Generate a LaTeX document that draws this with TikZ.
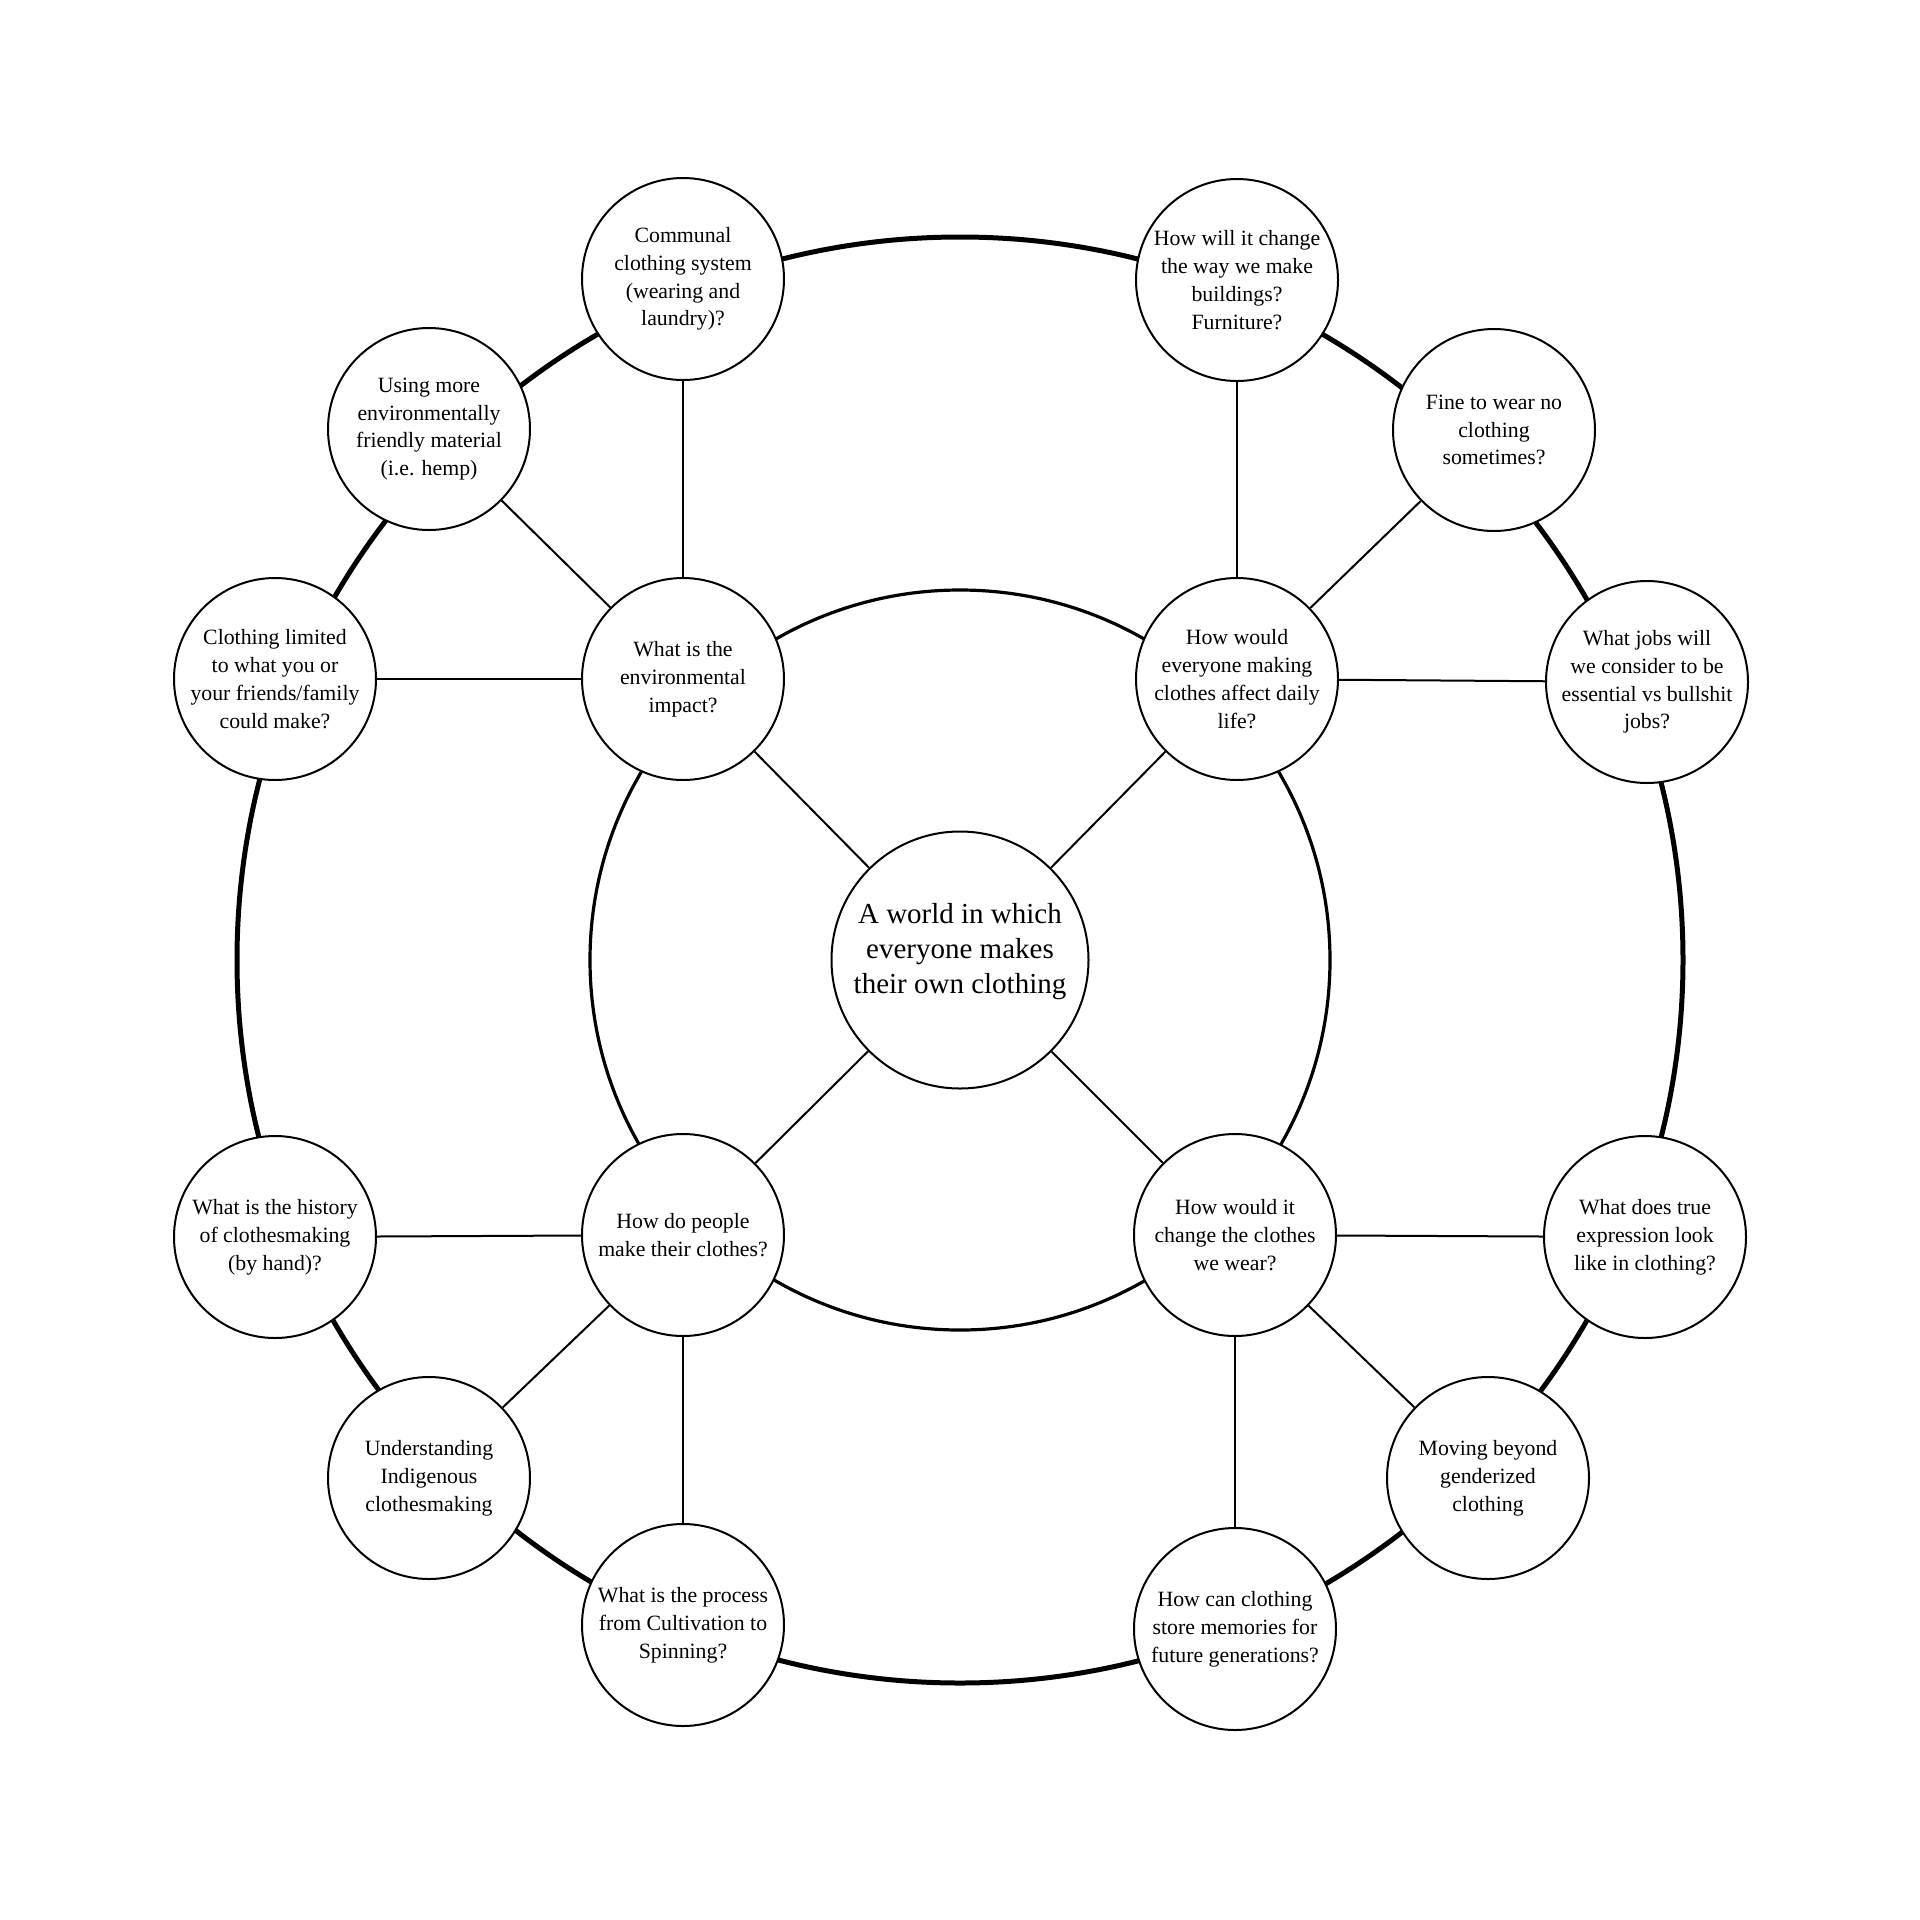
\documentclass[tikz,border=0pt]{standalone}
\usepackage{fontspec}
\setmainfont{Liberation Serif}
\begin{document}
\begin{tikzpicture}[x=1pt,y=-1pt,
  bub/.style={circle,draw=black,line width=2pt,fill=white,minimum size=202pt,inner sep=0pt,align=center,font=\fontsize{21.8}{27.8}\selectfont},
  hub/.style={circle,draw=black,line width=2pt,fill=white,minimum size=257pt,inner sep=0pt,align=center,font=\fontsize{29}{35}\selectfont},
  link/.style={line width=2pt}]
\useasboundingbox[fill=white] (0,0) rectangle (1920,1920);
\coordinate (O) at (960,960);
\draw[line width=5pt] (O) circle[radius=723pt];
\draw[line width=3.2pt] (O) circle[radius=370pt];

\node[hub] (c) at (960,960) {\raisebox{0pt}[0pt][0pt]{}A world in which\\everyone makes\\their own clothing\\[-12pt]\mbox{}};

\node[bub] (env) at (683,679) {What is the\\environmental\\impact?};
\node[bub] (daily) at (1237,679) {How would\\everyone making\\clothes affect daily\\life?};
\node[bub] (make) at (683,1235) {How do people\\make their clothes?};
\node[bub] (wear) at (1235,1235) {How would it\\change the clothes\\we wear?};

\node[bub] (communal) at (683,279) {Communal\\clothing system\\(wearing and\\laundry)?};
\node[bub] (build) at (1237,280) {How will it change\\the way we make\\buildings?\\Furniture?};
\node[bub] (hemp) at (429,429) {Using more\\environmentally\\friendly material\\(i.e. hemp)};
\node[bub] (fine) at (1494,430) {Fine to wear no\\clothing\\sometimes?};
\node[bub] (limited) at (275,679) {Clothing limited\\to what you or\\your friends/family\\could make?};
\node[bub] (jobs) at (1647,682) {What jobs will\\we consider to be\\essential vs bullshit\\jobs?};
\node[bub] (history) at (275,1237) {What is the history\\of clothesmaking\\(by hand)?};
\node[bub] (true) at (1645,1237) {What does true\\expression look\\like in clothing?};
\node[bub] (indig) at (429,1478) {Understanding\\Indigenous\\clothesmaking};
\node[bub] (gender) at (1488,1478) {Moving beyond\\genderized\\clothing};
\node[bub] (process) at (683,1625) {What is the process\\from Cultivation to\\Spinning?};
\node[bub] (memory) at (1235,1629) {How can clothing\\store memories for\\future generations?};

\draw[link] (c) -- (env);
\draw[link] (c) -- (daily);
\draw[link] (c) -- (make);
\draw[link] (c) -- (wear);

\draw[link] (env) -- (communal);
\draw[link] (env) -- (hemp);
\draw[link] (env) -- (limited);
\draw[link] (daily) -- (build);
\draw[link] (daily) -- (fine);
\draw[link] (daily) -- (jobs);
\draw[link] (make) -- (history);
\draw[link] (make) -- (indig);
\draw[link] (make) -- (process);
\draw[link] (wear) -- (true);
\draw[link] (wear) -- (gender);
\draw[link] (wear) -- (memory);
\end{tikzpicture}
\end{document}
